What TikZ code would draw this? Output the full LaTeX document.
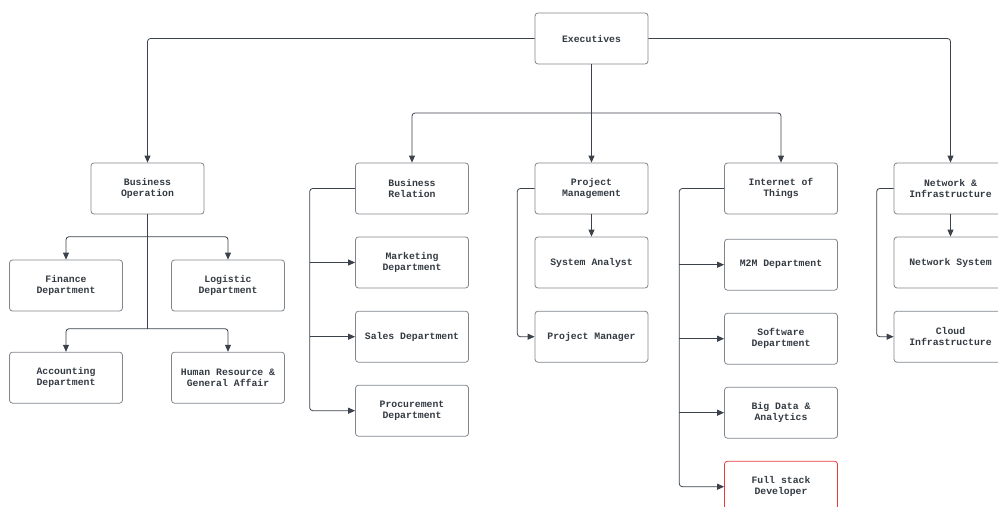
\documentclass[tikz,border=0pt]{standalone}
\usepackage{fontspec}
\setmonofont{Liberation Mono}
\usetikzlibrary{arrows.meta}

\definecolor{wire}{HTML}{3B424C}
\definecolor{rim}{HTML}{80858C}
\definecolor{ink}{HTML}{333A42}
\definecolor{alert}{HTML}{E8383A}

\begin{document}
\begin{tikzpicture}[x=1pt,y=-1pt,
unitblock/.style={draw=rim,rectangle,rounded corners=3pt,minimum width=113pt,minimum height=51pt,line width=0.8pt,align=center,text=ink,font=\ttfamily\bfseries\fontsize{9.8}{10.8}\selectfont},
redblock/.style={unitblock,draw=alert},
link/.style={draw=wire,line width=0.8pt,rounded corners=3pt,-{Triangle[length=7pt,width=6pt]}},
bar/.style={draw=wire,line width=0.8pt,rounded corners=3pt}]

\useasboundingbox (0,0) rectangle (998,506);
\clip (0,0) rectangle (998,506);

% top level
\node[unitblock] (exec) at (591.5,38.5) {Executives};

% second level
\node[unitblock] (bo) at (147.5,188.5) {Business\\Operation};
\node[unitblock] (br) at (412,188.5) {Business\\Relation};
\node[unitblock] (pm) at (591.5,188.5) {Project\\Management};
\node[unitblock] (iot) at (781,188.5) {Internet of\\Things};
\node[unitblock] (ni) at (950.5,188.5) {Network \&\\Infrastructure};

% business operation
\node[unitblock] (fin) at (66,285.5) {Finance\\Department};
\node[unitblock] (log) at (228,285.5) {Logistic\\Department};
\node[unitblock] (acc) at (66,377.7) {Accounting\\Department};
\node[unitblock] (hr) at (228,377.7) {Human Resource \&\\General Affair};

% business relation
\node[unitblock] (mkt) at (412,262.5) {Marketing\\Department};
\node[unitblock] (sal) at (412,336.7) {Sales Department};
\node[unitblock] (proc) at (412,410.7) {Procurement\\Department};

% project management
\node[unitblock] (sa) at (591.5,262.5) {System Analyst};
\node[unitblock] (pmgr) at (591.5,336.7) {Project Manager};

% internet of things
\node[unitblock] (m2m) at (781,264.7) {M2M Department};
\node[unitblock] (soft) at (781,338.7) {Software\\Department};
\node[unitblock] (bigd) at (781,412.7) {Big Data \&\\Analytics};
\node[redblock] (fsd) at (781,486.7) {Full stack\\Developer};

% network
\node[unitblock] (nsys) at (950.5,262.5) {Network System};
\node[unitblock] (cloud) at (950.5,336.7) {Cloud\\Infrastructure};

% executives
\coordinate (hub) at (591.5,113);
\draw[link] (exec.west) -| (bo.north);
\draw[link] (exec.east) -| (ni.north);
\draw[link] (exec.south) -- (pm.north);
\draw[link] (hub) -| (br.north);
\draw[link] (hub) -| (iot.north);

% business operation
\coordinate (bo1) at (147.5,236.7);
\coordinate (bo2) at (147.5,328.7);
\draw[bar] (bo.south) -- (bo2);
\draw[link] (bo1) -| (fin.north);
\draw[link] (bo1) -| (log.north);
\draw[link] (bo2) -| (acc.north);
\draw[link] (bo2) -| (hr.north);

% business relation
\coordinate (brbus) at (309.7,410.7);
\draw[link] (br.west) -| (brbus) -- (proc.west);
\draw[link] (brbus |- mkt.west) -- (mkt.west);
\draw[link] (brbus |- sal.west) -- (sal.west);

% project management
\coordinate (pmbus) at (517.3,336.7);
\draw[link] (pm.south) -- (sa.north);
\draw[link] (pm.west) -| (pmbus) -- (pmgr.west);

% internet of things
\coordinate (iotbus) at (679.3,486.7);
\draw[link] (iot.west) -| (iotbus) -- (fsd.west);
\draw[link] (iotbus |- m2m.west) -- (m2m.west);
\draw[link] (iotbus |- soft.west) -- (soft.west);
\draw[link] (iotbus |- bigd.west) -- (bigd.west);

% network
\coordinate (nibus) at (876.7,336.7);
\draw[link] (ni.south) -- (nsys.north);
\draw[link] (ni.west) -| (nibus) -- (cloud.west);

\end{tikzpicture}
\end{document}
